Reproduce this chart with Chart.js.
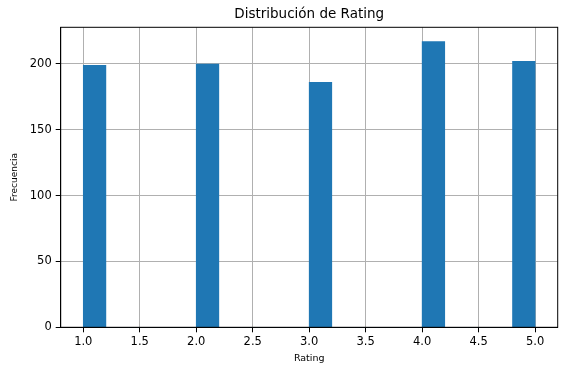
<!DOCTYPE html>
<html lang="es">
<head>
  <meta charset="UTF-8" />
  <title>Distribución de Rating</title>
  <script src="https://cdn.jsdelivr.net/npm/chart.js"></script>
  <style>
    html, body {
      margin: 0;
      padding: 0;
      background: #fff;
      overflow: hidden;
    }
    .chart-wrapper {
      width: 566px;
      height: 374px;
      position: relative;
    }
  </style>
</head>
<body>
  <div class="chart-wrapper">
    <canvas id="ratingChart"></canvas>
  </div>
  <script>
    // 20 histogram bins of width 0.2 between 1 and 5 (bin centres)
    const binCenters = [1.1, 1.3, 1.5, 1.7, 1.9, 2.1, 2.3, 2.5, 2.7, 2.9,
                        3.1, 3.3, 3.5, 3.7, 3.9, 4.1, 4.3, 4.5, 4.7, 4.9];
    const counts = [199, 0, 0, 0, 0, 200, 0, 0, 0, 0,
                    186, 0, 0, 0, 0, 217, 0, 0, 0, 202];
    const xTicks = [1.0, 1.5, 2.0, 2.5, 3.0, 3.5, 4.0, 4.5, 5.0];
    const yTicks = [0, 50, 100, 150, 200];

    const FONT = "'DejaVu Sans', 'Liberation Sans', sans-serif";

    // black frame around the plot area, like matplotlib spines
    const framePlugin = {
      id: 'frame',
      afterDraw(chart) {
        const {ctx, chartArea: a} = chart;
        ctx.save();
        ctx.strokeStyle = '#000';
        ctx.lineWidth = 1;
        ctx.strokeRect(a.left, a.top, a.right - a.left, a.bottom - a.top);
        ctx.restore();
      }
    };

    const config = {
      type: 'bar',
      data: {
        datasets: [{
          label: 'Rating',
          data: binCenters.map((x, i) => ({x: x, y: counts[i]})),
          backgroundColor: '#1f77b4',
          borderWidth: 0,
          barPercentage: 1,
          categoryPercentage: 1
        }]
      },
      options: {
        responsive: true,
        maintainAspectRatio: false,
        animation: false,
        layout: {padding: {left: 0, right: 8.3, top: 0, bottom: 0}},
        plugins: {
          legend: {display: false},
          tooltip: {enabled: false},
          title: {
            display: true,
            text: 'Distribución de Rating',
            color: '#000',
            fullSize: false,
            font: {family: FONT, size: 13.5, weight: 'normal'},
            padding: {top: 6.8, bottom: 4.3}
          }
        },
        scales: {
          x: {
            type: 'linear',
            min: 0.8,
            max: 5.2,
            offset: false,
            afterBuildTicks(scale) {
              scale.ticks = xTicks.map(v => ({value: v}));
            },
            afterFit(scale) { scale.height = 46.7; },
            grid: {
              offset: false,
              color: '#b0b0b0',
              lineWidth: 1,
              tickColor: '#000',
              tickLength: 5
            },
            border: {display: true, color: '#000'},
            ticks: {
              color: '#000',
              padding: 3,
              maxRotation: 0,
              autoSkip: false,
              font: {family: FONT, size: 11.5},
              callback: v => Number(v).toFixed(1)
            },
            title: {
              display: true,
              text: 'Rating',
              color: '#000',
              font: {family: FONT, size: 9.5},
              padding: {top: 0, bottom: 9.6}
            }
          },
          y: {
            min: 0,
            max: 227.85,
            afterBuildTicks(scale) {
              scale.ticks = yTicks.map(v => ({value: v}));
            },
            afterFit(scale) { scale.width = 60.7; },
            grid: {
              color: '#b0b0b0',
              lineWidth: 1,
              tickColor: '#000',
              tickLength: 5
            },
            border: {display: true, color: '#000'},
            ticks: {
              color: '#000',
              padding: 4,
              font: {family: FONT, size: 11.5}
            },
            title: {
              display: true,
              text: 'Frecuencia',
              color: '#000',
              font: {family: FONT, size: 9},
              padding: {top: 9.7, bottom: 0}
            }
          }
        }
      },
      plugins: [framePlugin]
    };

    new Chart(document.getElementById('ratingChart'), config);
  </script>
</body>
</html>
